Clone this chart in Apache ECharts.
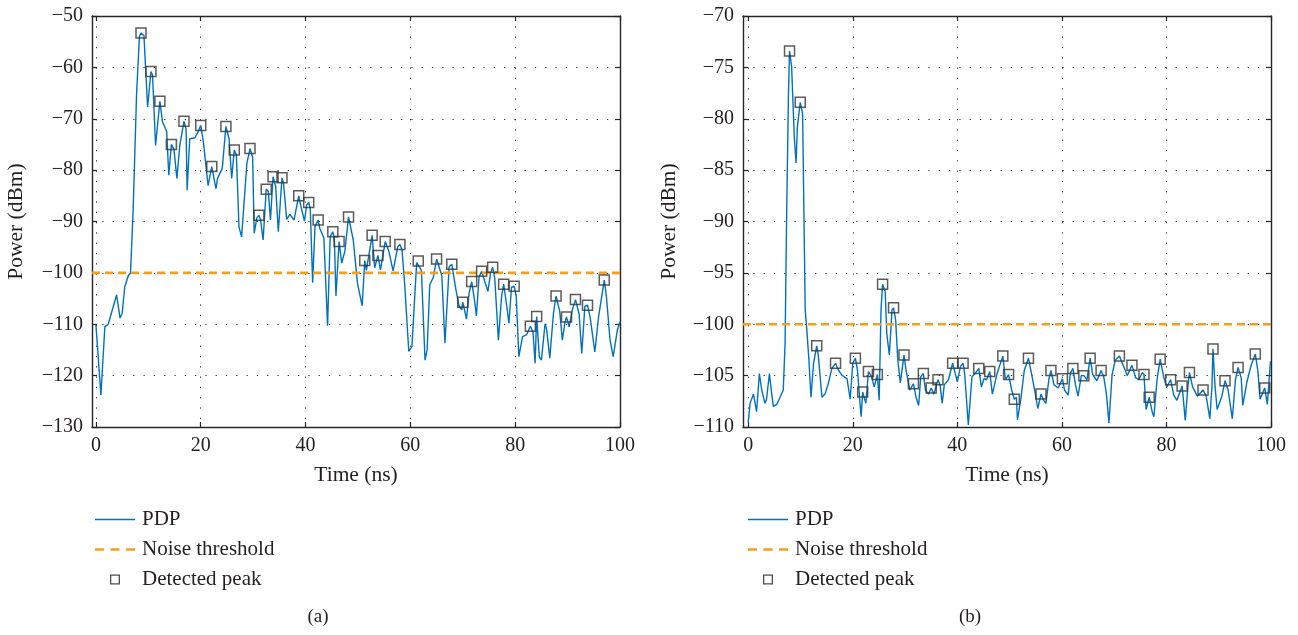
<!DOCTYPE html>
<html>
<head>
<meta charset="utf-8">
<script src="https://cdn.jsdelivr.net/npm/echarts@6/dist/echarts.min.js"></script>
<style>
html,body{margin:0;padding:0;background:#fff;}
#chart{width:1298px;height:635px;}
</style>
</head>
<body>
<div id="chart"></div>
<script>
// ---------- DATA ----------
var xTicks = [0, 20, 40, 60, 80, 100];
var yTicksA = [-130, -120, -110, -100, -90, -80, -70, -60, -50];
var yTicksB = [-110, -105, -100, -95, -90, -85, -80, -75, -70];
var thresholdA = -100;
var thresholdB = -100;
var seriesNames = ['PDP', 'Noise threshold', 'Detected peak'];
var xName = 'Time (ns)';
var yName = 'Power (dBm)';
var captions = ['(a)', '(b)'];

// (a) power delay profile [time ns, power dBm]
var pdpA = [
[0,-110.1],[0.95,-123.8],[1.7,-110.5],[2.35,-110],[3.94,-104.3],[4.6,-108.8],[5.0,-107.9],[5.5,-102.7],
[6.2,-100.5],[6.6,-100],[7.1,-87.8],[7.76,-65.1],[8.3,-54],[8.6,-53.3],[9.16,-53.8],[9.86,-67.7],[10.5,-60.8],
[10.8,-61.5],[11.38,-75.2],[12.2,-66.6],[12.7,-70.6],[13.5,-72.5],[13.9,-81],[14.4,-75.0],[14.9,-76],
[15.45,-81.6],[16.0,-75.2],[16.8,-70.5],[17.2,-72.0],[17.4,-83.9],[17.9,-73.9],[18.9,-73.7],[19.5,-72.5],[20.0,-71.3],
[20.5,-74.5],[21.4,-83],[22.1,-79.3],[22.9,-83.6],[23.2,-81.6],[24.1,-79.7],[24.8,-71.5],[25.4,-73.9],
[25.9,-81.6],[26.4,-76.1],[26.8,-77],[27.3,-91.1],[27.8,-93],[28.8,-78.7],[29.4,-75.8],[29.9,-77.5],
[30.2,-92.3],[30.7,-89.3],[31.1,-88.8],[31.4,-89.6],[31.9,-93.6],[32.5,-83.7],[32.9,-84.2],[33.3,-89.7],
[33.8,-81.3],[34.3,-83.2],[34.8,-92],[35.5,-81.5],[35.8,-82.6],[36.4,-89.6],[37.0,-88.6],[37.8,-89.7],
[38.7,-85.0],[39.1,-87],[39.8,-89.9],[40.2,-86.8],[40.6,-86.3],[40.9,-87.5],[41.35,-101.9],[41.8,-91],
[42.4,-89.7],[42.7,-91.3],[43.5,-93.2],[44.2,-110.3],[44.7,-92.9],[45.2,-92.0],[45.5,-93.5],[45.8,-104.5],
[46.4,-93.9],[46.9,-98.1],[47.5,-95.8],[48.2,-89.1],[49.1,-93.6],[49.9,-102],[50.8,-106.4],[51.3,-97.6],
[51.6,-99.5],[52.2,-95.8],[52.7,-92.7],[53.2,-99],[53.8,-96.6],[54.3,-99.4],[55.2,-93.9],[55.9,-95.8],
[56.7,-99.6],[57.6,-94.9],[58.0,-94.5],[58.4,-95.5],[58.9,-102],[59.7,-115.3],[60.3,-114.3],[61.2,-98],
[61.5,-97.7],[62.1,-99.5],[62.8,-117],[63.2,-115],[63.7,-102.3],[64.4,-100.8],[65.0,-97.3],[66.0,-100.5],
[66.6,-113.7],[67.4,-98.8],[67.9,-98.3],[68.7,-103.3],[69.3,-106.5],[69.8,-107.2],[70.0,-105.7],[70.7,-109],
[71.2,-104],[71.7,-101.7],[72.2,-105],[72.6,-108.4],[73.1,-100.8],[73.6,-99.7],[74.3,-102],[74.8,-103.6],
[75.3,-100.1],[75.7,-98.9],[76.1,-101],[76.8,-113.1],[77.4,-104.6],[77.8,-102.2],[78.4,-106.5],[78.8,-109.8],
[79.3,-102.8],[79.8,-102.6],[80.2,-104.5],[80.7,-116.3],[81.4,-112.4],[82.2,-112],[82.9,-110.4],[83.4,-111.5],
[83.8,-117.6],[84.1,-108.5],[84.6,-116.3],[85.0,-117],[85.7,-109.9],[86.0,-111],[86.6,-116.6],[87.3,-107.9],
[87.8,-104.5],[88.5,-107.5],[89.0,-113.1],[89.5,-109.6],[89.8,-108.6],[90.3,-110.5],[90.9,-107.2],[91.5,-105.2],
[92.2,-108],[92.7,-115.7],[93.3,-106.5],[93.8,-106.3],[94.3,-108.6],[95.2,-115.4],[95.9,-108.6],[97.0,-101.4],
[97.4,-104.5],[98.1,-113.1],[98.7,-116.3],[99.5,-111.1],[100,-109.5]
];
var peaksA = [
[8.6,-53.3],[10.5,-60.8],[12.2,-66.6],[14.4,-75.0],[16.8,-70.5],[20.0,-71.3],[22.1,-79.3],[24.8,-71.5],
[26.4,-76.1],[29.4,-75.8],[31.1,-88.8],[32.5,-83.7],[33.8,-81.3],[35.5,-81.5],[38.7,-85.0],[40.6,-86.3],
[42.4,-89.7],[45.2,-92.0],[46.4,-93.9],[48.2,-89.1],[51.3,-97.6],[52.7,-92.7],[53.8,-96.6],[55.2,-93.9],
[58.0,-94.5],[61.5,-97.7],[65.0,-97.3],[67.9,-98.3],[70.0,-105.7],[71.7,-101.7],[73.6,-99.7],[75.7,-98.9],
[77.8,-102.2],[79.8,-102.6],[82.9,-110.4],[84.1,-108.5],[87.8,-104.5],[89.8,-108.6],[91.5,-105.2],
[93.8,-106.3],[97.0,-101.4]
];

// (b) power delay profile [time ns, power dBm]
var pdpB = [
[0,-109.6],[0.35,-107.7],[1.0,-106.8],[1.6,-108.5],[2.13,-104.8],[2.58,-106.4],[3.2,-107.7],[3.5,-107.3],
[4.05,-104.8],[4.5,-106.8],[4.8,-108],[5.45,-107.8],[6.1,-107.1],[6.7,-106.4],[7.05,-101.9],[7.36,-88.9],
[7.7,-77.5],[7.9,-73.4],[8.3,-74.9],[8.8,-81.7],[9.15,-84.3],[9.4,-80.8],[9.95,-78.4],[10.4,-79.5],
[10.9,-98.6],[11.2,-100.5],[11.6,-103.4],[12.0,-107.1],[12.5,-103.8],[13.1,-102.1],[13.4,-103],[14.1,-107.1],
[14.7,-106.8],[15.3,-105.8],[16.0,-104.3],[16.7,-103.8],[17.3,-104.5],[17.9,-104.95],[18.9,-105.3],[19.5,-107.3],
[20.0,-103.8],[20.5,-103.3],[20.9,-104.5],[21.3,-107.1],[21.6,-109],[21.9,-106.6],[22.5,-107.7],[23.0,-104.6],
[23.6,-105.1],[24.1,-106.1],[24.7,-104.9],[25.05,-107.4],[25.4,-98.6],[25.7,-96.1],[26.2,-96.8],[26.5,-100.9],
[27.0,-103],[27.5,-98.6],[27.8,-98.4],[28.2,-99.6],[28.6,-103.4],[29.1,-105.7],[29.8,-103.0],[30.2,-104.5],
[30.9,-106.4],[31.6,-105.8],[32.1,-107.1],[32.6,-107.9],[33.0,-105.1],[33.5,-104.8],[33.9,-106.4],[34.5,-106.8],
[35.0,-106.2],[35.5,-106.8],[36.3,-105.4],[36.7,-105.9],[37.1,-107.7],[37.5,-105.9],[38.3,-105.4],[39.1,-103.8],
[39.6,-104.8],[40.0,-105.6],[40.6,-104.1],[41.1,-103.8],[41.4,-104.8],[42.1,-109.8],[42.8,-105.1],[43.4,-104.8],
[44.1,-104.3],[44.6,-106.1],[45.1,-105.3],[45.6,-105.4],[46.2,-104.6],[46.7,-106.8],[47.6,-104.8],[48.7,-103.1],
[49.2,-105.4],[49.8,-104.9],[50.4,-106.4],[50.9,-107.3],[51.3,-107.1],[51.5,-109.3],[52.2,-107.1],[52.8,-104.5],
[53.6,-103.3],[54.3,-105.1],[54.9,-106.7],[55.4,-108.2],[56.0,-106.8],[56.5,-107.4],[56.95,-107.7],[57.5,-105.4],
[57.9,-104.5],[58.5,-105.9],[59.3,-106.2],[60.1,-105.3],[60.5,-106.4],[61.2,-106.9],[61.6,-104.8],[62.1,-104.3],
[62.6,-105.9],[63.1,-107],[63.7,-105.0],[64.2,-105.0],[64.8,-105.4],[65.4,-103.3],[65.9,-104.9],[66.7,-105.5],
[67.5,-104.5],[68.0,-105.1],[68.5,-106.7],[69.0,-109.6],[69.6,-104.9],[70.2,-103.5],[71.0,-103.1],[71.9,-104.2],
[72.5,-105.0],[73.4,-104.0],[74.1,-105.2],[74.7,-105.4],[75.4,-104.7],[75.7,-104.9],[76.1,-108.3],[76.7,-107.1],
[77.3,-108.6],[77.6,-109.0],[78.2,-105.4],[78.8,-103.4],[79.5,-105.2],[80.1,-106.1],[80.8,-105.4],[81.4,-106.9],
[82.0,-107.4],[83.0,-106.0],[83.6,-109.35],[84.1,-106.1],[84.4,-104.7],[85.0,-106.1],[85.9,-107.0],[87.0,-106.4],
[87.6,-107.0],[88.3,-109.2],[88.7,-106.1],[88.9,-102.4],[89.3,-106.1],[89.7,-108.3],[90.6,-107.0],[91.2,-105.5],
[91.8,-106.4],[92.6,-109.2],[93.2,-105.4],[93.7,-104.2],[94.3,-105.2],[94.6,-107.9],[95.4,-105.6],[96.2,-104.0],
[97.0,-102.9],[97.5,-104.6],[97.9,-107.3],[98.8,-106.2],[99.3,-107.8],[99.9,-103.6]
];
var peaksB = [
[7.9,-73.4],[9.95,-78.4],[13.1,-102.1],[16.7,-103.8],[20.5,-103.3],[21.9,-106.6],[23.0,-104.6],[24.7,-104.9],
[25.7,-96.1],[27.8,-98.4],[29.8,-103.0],[31.6,-105.8],[33.5,-104.8],[35.0,-106.2],[36.3,-105.4],[39.1,-103.8],
[41.1,-103.8],[44.1,-104.3],[46.2,-104.6],[48.7,-103.1],[49.8,-104.9],[50.9,-107.3],[53.6,-103.3],[56.0,-106.8],
[57.9,-104.5],[60.1,-105.3],[62.1,-104.3],[64.2,-105.0],[65.4,-103.3],[67.5,-104.5],[71.0,-103.1],[73.4,-104.0],
[75.7,-104.9],[76.7,-107.1],[78.8,-103.4],[80.8,-105.4],[83.0,-106.0],[84.4,-104.7],[87.0,-106.4],[88.9,-102.4],
[91.2,-105.5],[93.7,-104.2],[97.0,-102.9],[98.8,-106.2]
];

// ---------- STYLE / LAYOUT ----------
var FONT = 'Liberation Serif';
var TXT = '#231f20';
var AX = '#262626';
var BLUE = '#0072BD';
var ORANGE = '#F5A01D';
var PEAK = '#333333';
var xMinA = -0.75, xMinB = -1, xMax = 100;

var ICON_LINE = 'path://M0,0h40v1.4h-40z';
var ICON_DASH = 'path://M0,0h9v2.6h-9z M15.5,0h9v2.6h-9z M31,0h9v2.6h-9z';
var ICON_SQUARE = 'path://M0,0h10v10h-10z M1.3,1.3v7.4h7.4v-7.4z';

function minus(v){ return String(v).replace('-', '\u2212'); }

var chart = echarts.init(document.getElementById('chart'), null, {renderer: 'canvas'});

function xAx(gi, min, bottom) {
  return {
    type: 'value', gridIndex: gi, min: min, max: xMax, position: bottom ? 'bottom' : 'top',
    axisLine: {show: true, onZero: false, lineStyle: {color: AX, width: 1.4}},
    axisTick: {show: true, inside: true, length: 5, customValues: xTicks, lineStyle: {color: AX, width: 1.2}},
    axisLabel: {show: bottom, customValues: xTicks, margin: 9, color: TXT, fontFamily: FONT, fontSize: 20, formatter: minus},
    splitLine: {show: bottom, lineStyle: {color: '#3a3a3a', width: 1, type: [1.3, 9]}},
    name: bottom ? xName : '', nameLocation: 'middle', nameGap: 37,
    nameTextStyle: {color: TXT, fontFamily: FONT, fontSize: 21.5}
  };
}
function yAx(gi, min, max, interval, left, gap) {
  return {
    type: 'value', gridIndex: gi, min: min, max: max, interval: interval, position: left ? 'left' : 'right',
    axisLine: {show: true, onZero: false, lineStyle: {color: AX, width: 1.4}},
    axisTick: {show: true, inside: true, length: 5, lineStyle: {color: AX, width: 1.2}},
    axisLabel: {show: left, margin: 9, color: TXT, fontFamily: FONT, fontSize: 20, formatter: minus},
    splitLine: {show: left, lineStyle: {color: '#3a3a3a', width: 1, type: [1.3, 9]}},
    name: left ? yName : '', nameLocation: 'middle', nameGap: gap,
    nameTextStyle: {color: TXT, fontFamily: FONT, fontSize: 21.5}
  };
}

function lineSeries(xi, yi, data) {
  return {name: seriesNames[0], type: 'line', xAxisIndex: xi, yAxisIndex: yi, data: data,
    symbol: 'none', smooth: false, lineStyle: {color: BLUE, width: 1.4}, itemStyle: {color: BLUE}, z: 3, animation: false};
}
function threshSeries(xi, yi, xmin, thr) {
  return {name: seriesNames[1], type: 'line', xAxisIndex: xi, yAxisIndex: yi, data: [[xmin, thr], [xMax, thr]],
    symbol: 'none', lineStyle: {color: ORANGE, width: 2.6, type: [8, 5]}, itemStyle: {color: ORANGE}, z: 4, animation: false};
}
function peakSeries(xi, yi, data) {
  return {name: seriesNames[2], type: 'scatter', xAxisIndex: xi, yAxisIndex: yi, data: data,
    symbol: 'rect', symbolSize: 10,
    itemStyle: {color: 'rgba(255,255,255,0)', borderColor: PEAK, borderWidth: 1.5}, z: 5, animation: false};
}
function legend(left) {
  return {
    left: left, top: 504, orient: 'vertical', itemWidth: 40, itemHeight: 10, itemGap: 9,
    selectedMode: false, symbolKeepAspect: true,
    textStyle: {color: TXT, fontFamily: FONT, fontSize: 21, lineHeight: 20.5, padding: [0, 0, 0, 2]},
    data: [
      {name: seriesNames[0], icon: ICON_LINE, itemStyle: {color: BLUE, borderWidth: 0}},
      {name: seriesNames[1], icon: ICON_DASH, itemStyle: {color: ORANGE, borderWidth: 0}},
      {name: seriesNames[2], icon: ICON_SQUARE, itemStyle: {color: '#222', borderWidth: 0}}
    ]
  };
}

var option = {
  backgroundColor: '#fff',
  animation: false,
  grid: [
    {left: 92, top: 16, width: 528, height: 411, show: false},
    {left: 743, top: 16, width: 528, height: 411, show: false}
  ],
  xAxis: [xAx(0, xMinA, true), xAx(0, xMinA, false), xAx(1, xMinB, true), xAx(1, xMinB, false)],
  yAxis: [
    yAx(0, yTicksA[0], yTicksA[yTicksA.length - 1], 10, true, 65),
    yAx(0, yTicksA[0], yTicksA[yTicksA.length - 1], 10, false, 0),
    yAx(1, yTicksB[0], yTicksB[yTicksB.length - 1], 5, true, 63),
    yAx(1, yTicksB[0], yTicksB[yTicksB.length - 1], 5, false, 0)
  ],
  legend: [legend(90), legend(743)],
  series: [
    lineSeries(0, 0, pdpA), threshSeries(0, 0, xMinA, thresholdA), peakSeries(0, 0, peaksA),
    lineSeries(2, 2, pdpB), threshSeries(2, 2, xMinB, thresholdB), peakSeries(2, 2, peaksB)
  ],
  graphic: [
    {type: 'text', x: 318, y: 617, style: {text: captions[0], fill: TXT, font: '19px "Liberation Serif"', textAlign: 'center', textVerticalAlign: 'middle'}},
    {type: 'text', x: 970, y: 617, style: {text: captions[1], fill: TXT, font: '19px "Liberation Serif"', textAlign: 'center', textVerticalAlign: 'middle'}}
  ]
};
chart.setOption(option);
</script>
</body>
</html>
